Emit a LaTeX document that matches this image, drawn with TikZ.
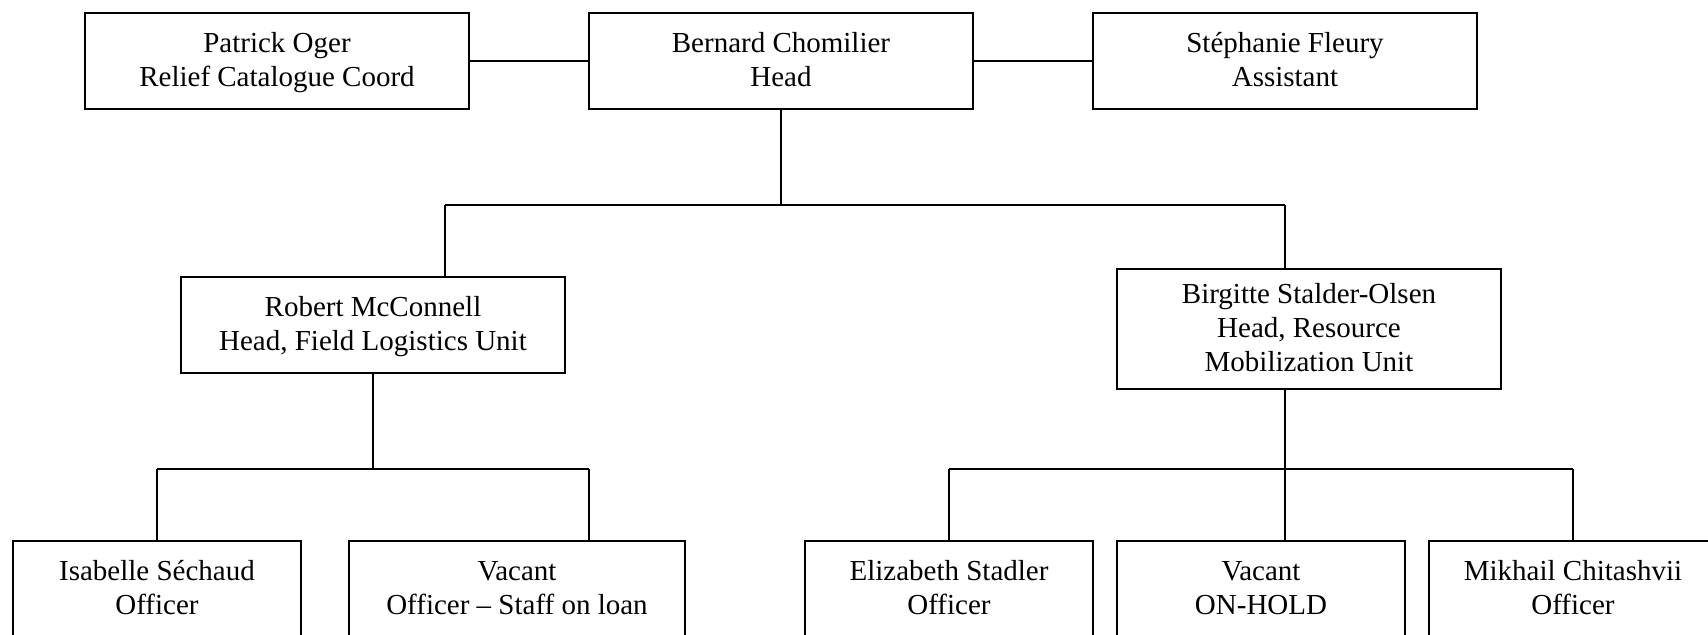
\documentclass[tikz,border=0pt]{standalone}
\usepackage{fontspec}
\setmainfont{Liberation Serif}
\usepackage{tikz}

\begin{document}
\begin{tikzpicture}[x=0.5pt,y=-0.5pt,line width=1pt,
  post/.style={draw, align=flush center, inner sep=0pt, minimum width=192pt, minimum height=48pt,
    text width=180pt, font=\fontsize{14.5}{17}\selectfont,
    execute at begin node=\rule{0pt}{13.1pt}, execute at end node=\strut},
  postnarrow/.style={post, minimum width=144pt, text width=136pt},
  postwide/.style={post, minimum width=168pt, text width=160pt},
  posttall/.style={post, minimum height=60pt}]

\useasboundingbox (0,0) rectangle (1708,634);

% Top row
\node[post] (oger) at (277,61) {Patrick Oger\\Relief Catalogue Coord};
\node[post] (chomilier) at (781,61) {Bernard Chomilier\\Head};
\node[post] (fleury) at (1285,61) {St\'ephanie Fleury\\Assistant};

% Units
\node[post] (mcconnell) at (373,325) {Robert McConnell\\Head, Field Logistics Unit};
\node[posttall] (stalder) at (1309,329) {Birgitte Stalder-Olsen\\Head, Resource\\Mobilization Unit};

% Officers
\node[postnarrow] (sechaud) at (157,589) {Isabelle S\'echaud\\Officer};
\node[postwide] (vacantfl) at (517,589) {Vacant\\Officer -- Staff on loan};
\node[postnarrow] (stadler) at (949,589) {Elizabeth Stadler\\Officer};
\node[postnarrow] (vacanthold) at (1261,589) {Vacant\\ON-HOLD};
\node[postnarrow] (chitashvii) at (1573,589) {Mikhail Chitashvii\\Officer};

% Head and side posts
\draw (oger) -- (chomilier);
\draw (chomilier) -- (fleury);

% Head to units
\coordinate (jL) at (445,205);
\coordinate (jR) at (1285,205);
\draw (chomilier.south) -- (chomilier.south |- jL);
\draw (jL) -- (jR);
\draw (jL) -- (jL |- mcconnell.north);
\draw (jR) -- (jR |- stalder.north);

% Field logistics unit
\coordinate (kL) at (157,469);
\coordinate (kR) at (589,469);
\draw (mcconnell.south) -- (mcconnell.south |- kL);
\draw (kL) -- (kR);
\draw (kL) -- (sechaud.north);
\draw (kR) -- (kR |- vacantfl.north);

% Resource mobilization unit
\coordinate (mL) at (949,469);
\coordinate (mR) at (1573,469);
\draw (jR |- stalder.south) -- (jR |- vacanthold.north);
\draw (mL) -- (mR);
\draw (mL) -- (stadler.north);
\draw (mR) -- (chitashvii.north);

\end{tikzpicture}
\end{document}
